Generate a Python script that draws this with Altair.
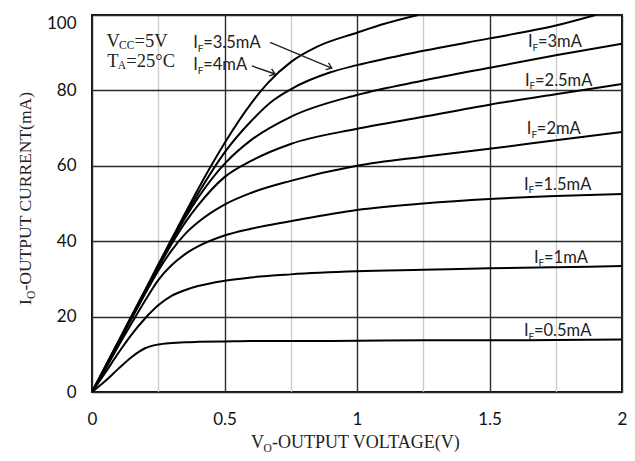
import math
import altair as alt
import pandas as pd

# ---------------- data ----------------
V_A = [0, 0.05, 0.1, 0.15, 0.2, 0.25, 0.3, 0.35, 0.4, 0.5, 0.6, 0.75, 1.0, 1.25, 1.5, 1.75, 2.0]
I_05 = [0, 2.9, 6.2, 9.3, 11.6, 12.6, 13.0, 13.2, 13.3, 13.4, 13.5, 13.5, 13.6, 13.7, 13.7, 13.8, 13.9]
I_10 = [0, 5.1, 10.4, 15.3, 19.5, 23.0, 25.5, 27.0, 28.1, 29.5, 30.4, 31.2, 32.0, 32.4, 32.8, 33.1, 33.4]
I_15 = [0, 6.0, 12.3, 18.3, 24.2, 29.7, 33.6, 36.5, 38.6, 41.5, 43.3, 45.3, 48.3, 50.0, 51.2, 52.0, 52.5]
I_20 = [0, 6.3, 12.9, 19.5, 26.0, 32.2, 37.5, 41.8, 45.0, 49.7, 52.8, 56.0, 60.0, 62.4, 64.5, 66.8, 69.0]
I_25 = [0, 6.5, 13.2, 19.9, 26.5, 33.0, 39.2, 44.8, 49.5, 57.0, 61.3, 65.8, 69.8, 73.0, 76.2, 79.0, 81.7]
I_30 = [0, 6.6, 13.3, 20.0, 26.7, 33.3, 39.8, 46.0, 51.5, 60.5, 66.8, 73.0, 78.8, 82.6, 86.0, 89.3, 92.4]
V_35 = [0, 0.05, 0.1, 0.15, 0.2, 0.25, 0.3, 0.35, 0.4, 0.5, 0.6, 0.683, 0.75, 0.9, 1.0, 1.25, 1.5, 1.75, 1.9]
I_35 = [0, 6.7, 13.4, 20.1, 26.8, 33.5, 40.2, 46.6, 52.6, 63.5, 71.8, 77.3, 80.3, 84.8, 86.7, 90.5, 93.8, 97.2, 100]
V_40 = [0, 0.05, 0.1, 0.15, 0.2, 0.25, 0.3, 0.35, 0.4, 0.5, 0.6, 0.664, 0.75, 0.85, 1.0, 1.1, 1.23]
I_40 = [0, 6.8, 13.5, 20.3, 27.0, 33.8, 40.5, 47.2, 53.8, 66.0, 76.5, 82.0, 87.5, 91.6, 95.3, 97.6, 100]

SERIES = ["0.5", "1", "1.5", "2", "2.5", "3", "3.5", "4"]

X_TICKS = [0, 0.25, 0.5, 0.75, 1.0, 1.25, 1.5, 1.75, 2.0]
Y_TICKS = [0, 10, 20, 30, 40, 50, 60, 70, 80, 90, 100]

LBL_X = [1.645, 1.634, 1.641, 1.630, 1.668, 1.630, 0.382, 0.382]
LBL_Y = [91.5, 81.2, 68.4, 53.6, 34.3, 14.85, 91.2, 85.4]
LBL_REST = ["=3mA", "=2.5mA", "=2mA", "=1.5mA", "=1mA", "=0.5mA", "=3.5mA", "=4mA"]

VCC_POS = [0.055, 91.6]
TA_POS = [0.058, 86.3]
VCC_TEXT = ["V", "CC", "=5V"]
TA_TEXT = ["T", "A", "=25\u00b0C"]

ARR_X1 = [0.672, 0.603]
ARR_Y1 = [92.75, 86.5]
ARR_X2 = [0.9045, 0.691]
ARR_Y2 = [85.9, 84.35]

# ---------------- layout constants ----------------
W, H = 530, 377
SANS = "Lato"
SERIF = "Liberation Serif"
INK = "#222"

# ---------------- frames ----------------
rows = []
curves = [(V_A, I_05), (V_A, I_10), (V_A, I_15), (V_A, I_20), (V_A, I_25), (V_A, I_30),
          (V_35, I_35), (V_40, I_40)]
for name, (vx, iy) in zip(SERIES, curves):
    for a, b in zip(vx, iy):
        rows.append({"V": a, "I": b, "IF": name})
df = pd.DataFrame(rows)

lbl = pd.DataFrame({"x": LBL_X, "y": LBL_Y, "rest": LBL_REST})
arr = pd.DataFrame({"x1": ARR_X1, "y1": ARR_Y1, "x2": ARR_X2, "y2": ARR_Y2})
arr["ang"] = [
    math.degrees(math.atan2((a - c) / 100 * H, (d - b) / 2 * W))
    for a, b, c, d in zip(arr.y1, arr.x1, arr.y2, arr.x2)
]
one = pd.DataFrame({"k": [0]})

xs = alt.Scale(domain=[0, 2], nice=False)
ys = alt.Scale(domain=[0, 100], nice=False)

x_axis = alt.Axis(
    values=X_TICKS, title=None, ticks=False, domain=False, labelFlush=False,
    labelExpr="datum.value % 0.5 === 0 ? '' + datum.value : ''",
    labelFont=SANS, labelFontSize=17, labelColor="#111", labelPadding=19,
    gridColor={"condition": {"test": "datum.value % 0.5 === 0", "value": "#2a2a2a"}, "value": "#cccccc"},
    gridWidth=1.4, gridOpacity=1,
)
y_axis = alt.Axis(
    values=Y_TICKS, title=None, ticks=False, domain=False, labelFlush=False,
    labelExpr="datum.value % 20 === 0 ? '' + datum.value : ''",
    labelFont=SANS, labelFontSize=17, labelColor="#111", labelPadding=16,
    labelBaseline={"condition": {"test": "datum.value === 100", "value": "top"}, "value": "middle"},
    gridColor={"condition": {"test": "datum.value % 20 === 0", "value": "#2a2a2a"}, "value": "#cccccc"},
    gridWidth=1.4, gridOpacity=1,
)

lines = alt.Chart(df).mark_line(color="black", strokeWidth=2, interpolate="monotone", clip=True).encode(
    x=alt.X("V:Q", scale=xs, axis=x_axis),
    y=alt.Y("I:Q", scale=ys, axis=y_axis),
    detail="IF:N",
)

lbase = alt.Chart(lbl).encode(x=alt.X("x:Q", scale=xs), y=alt.Y("y:Q", scale=ys))
l_main = lbase.mark_text(font=SANS, fontSize=16.5, align="left", baseline="alphabetic", color=INK).encode(
    text=alt.value("I"))
l_sub = lbase.mark_text(font=SANS, fontSize=10, align="left", baseline="alphabetic", dx=4.6, dy=3.5,
                        color=INK).encode(text=alt.value("F"))
l_rest = lbase.mark_text(font=SANS, fontSize=16.5, align="left", baseline="alphabetic", dx=10,
                         color=INK).encode(text="rest:N")


def cond_label(pos, texts, sub_dx, rest_dx):
    d = pd.DataFrame({"x": [pos[0]], "y": [pos[1]], "m": [texts[0]], "s": [texts[1]], "r": [texts[2]]})
    b = alt.Chart(d).encode(x=alt.X("x:Q", scale=xs), y=alt.Y("y:Q", scale=ys))
    m = b.mark_text(font=SERIF, fontSize=18.5, align="left", baseline="alphabetic", color=INK).encode(text="m:N")
    s = b.mark_text(font=SERIF, fontSize=11.5, align="left", baseline="alphabetic", color=INK,
                    dx=sub_dx, dy=2.5).encode(text="s:N")
    r = b.mark_text(font=SERIF, fontSize=18.5, align="left", baseline="alphabetic", color=INK,
                    dx=rest_dx).encode(text="r:N")
    return [m, s, r]


vcc_layers = cond_label(VCC_POS, VCC_TEXT, 12.5, 28.0)
ta_layers = cond_label(TA_POS, TA_TEXT, 10.5, 19.0)

a_line = alt.Chart(arr).mark_rule(color=INK, strokeWidth=1.4).encode(
    x=alt.X("x1:Q", scale=xs), y=alt.Y("y1:Q", scale=ys), x2="x2:Q", y2="y2:Q")
a_head = alt.Chart(arr).mark_point(
    shape="M -1 -0.75 L 0 0 L -1 0.75", filled=False, stroke=INK, strokeWidth=1.4, size=100, opacity=1
).encode(x=alt.X("x2:Q", scale=xs), y=alt.Y("y2:Q", scale=ys), angle=alt.Angle("ang:Q", scale=None))

# axis titles with subscripts, placed in pixel space
tb = alt.Chart(one)
xt1 = tb.mark_text(font=SERIF, fontSize=18, align="left", baseline="alphabetic", color=INK).encode(
    x=alt.value(159), y=alt.value(433), text=alt.value("V"))
xt2 = tb.mark_text(font=SERIF, fontSize=11.5, align="left", baseline="alphabetic", color=INK).encode(
    x=alt.value(171.5), y=alt.value(436.5), text=alt.value("O"))
xt3 = tb.mark_text(font=SERIF, fontSize=18, align="left", baseline="alphabetic", color=INK).encode(
    x=alt.value(180), y=alt.value(433), text=alt.value("-OUTPUT VOLTAGE(V)"))
yt1 = tb.mark_text(font=SERIF, fontSize=17.5, align="left", baseline="alphabetic", angle=270, color=INK).encode(
    x=alt.value(-61), y=alt.value(290), text=alt.value("I"))
yt2 = tb.mark_text(font=SERIF, fontSize=11.5, align="left", baseline="alphabetic", angle=270, color=INK).encode(
    x=alt.value(-57), y=alt.value(284), text=alt.value("O"))
yt3 = tb.mark_text(font=SERIF, fontSize=17.5, align="left", baseline="alphabetic", angle=270, color=INK).encode(
    x=alt.value(-61), y=alt.value(275.5), text=alt.value("-OUTPUT CURRENT(mA)"))

chart = alt.layer(
    lines, l_main, l_sub, l_rest, *vcc_layers, *ta_layers, a_line, a_head,
    xt1, xt2, xt3, yt1, yt2, yt3,
).properties(
    width=W, height=H,
    padding={"left": 84, "top": 7, "right": 5, "bottom": 61},
    autosize=alt.AutoSizeParams(type="none"),
    background="white",
).configure_view(stroke="#111", strokeWidth=2)

chart.save("out.html", embed_options={"renderer": "svg", "actions": False})
